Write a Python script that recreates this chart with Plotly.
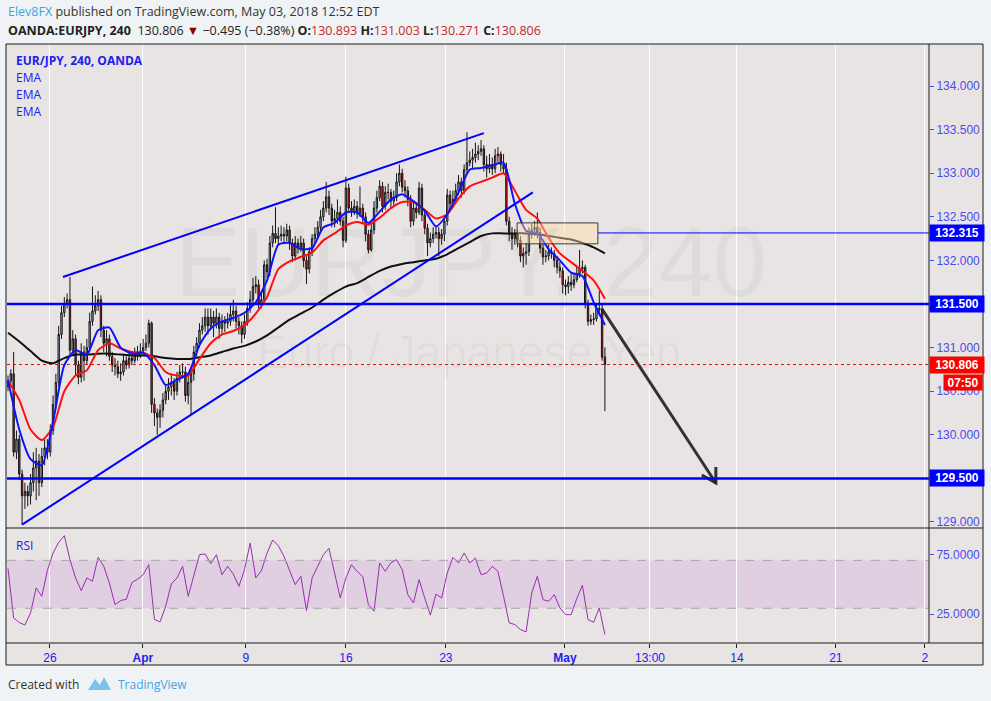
import plotly.graph_objects as go
from plotly.subplots import make_subplots

# ---------------- data (EUR/JPY 4h candles) ----------------
opens = [
    130.55, 130.62, 130.70, 129.80, 129.95, 129.55, 129.30, 129.35, 129.30, 129.45,
    129.62, 129.70, 129.45, 129.75, 129.85, 129.80, 130.05, 130.35, 130.60, 131.15,
    131.40, 131.50, 131.55, 130.97, 131.10, 130.80, 130.66, 130.95, 130.85, 131.00,
    131.30, 131.42, 131.48, 131.55, 131.20, 131.05, 131.10, 130.90, 130.80, 130.78,
    130.70, 130.72, 130.85, 130.80, 130.88, 130.85, 130.92, 130.90, 130.96, 131.00,
    131.05, 131.28, 130.35, 130.25, 130.20, 130.28, 130.40, 130.50, 130.55, 130.60,
    130.50, 130.65, 130.72, 130.72, 130.45, 130.60, 130.70, 130.95, 131.05, 131.20,
    131.25, 131.35, 131.25, 131.35, 131.28, 131.35, 131.22, 131.30, 131.28, 131.30,
    131.38, 131.42, 131.30, 131.25, 131.15, 131.30, 131.45, 131.55, 131.70, 131.72,
    131.50, 131.55, 131.95, 131.87, 132.20, 132.31, 132.25, 132.28, 132.30, 132.28,
    132.35, 132.20, 132.05, 132.20, 132.15, 132.20, 132.00, 131.90, 132.10, 132.25,
    132.30, 132.38, 132.50, 132.60, 132.73, 132.60, 132.45, 132.48, 132.55, 132.45,
    132.23, 132.83, 132.60, 132.57, 132.62, 132.54, 132.60, 132.50, 132.30, 132.12,
    132.35, 132.60, 132.72, 132.85, 132.62, 132.78, 132.78, 132.68, 132.72, 132.90,
    133.00, 132.84, 132.80, 132.70, 132.45, 132.60, 132.55, 132.83, 132.52, 132.37,
    132.20, 132.25, 132.30, 132.32, 132.25, 132.30, 132.45, 132.75, 132.65, 132.70,
    132.80, 132.90, 132.80, 133.04, 133.12, 133.15, 133.18, 133.22, 133.25, 133.28,
    133.10, 133.05, 133.10, 133.05, 133.20, 133.22, 133.10, 133.05, 132.45, 132.30,
    132.25, 132.30, 132.23, 132.05, 132.08, 132.10, 132.30, 132.35, 132.38, 132.32,
    132.14, 132.04, 132.05, 132.10, 132.08, 132.00, 131.92, 131.88, 131.72, 131.70,
    131.75, 131.72, 131.78, 131.85, 131.90, 131.92, 131.51, 131.30, 131.32, 131.33,
    131.45, 131.44, 130.893,
]
highs = [
    130.68, 130.75, 130.95, 130.05, 130.00, 129.60, 129.45, 129.42, 129.55, 129.80,
    129.85, 129.78, 129.85, 129.95, 129.95, 130.12, 130.45, 130.70, 131.25, 131.48,
    131.58, 131.62, 131.81, 131.20, 131.15, 130.85, 131.05, 131.02, 131.10, 131.40,
    131.70, 131.60, 131.65, 131.60, 131.25, 131.20, 131.15, 130.95, 130.88, 130.85,
    130.82, 130.92, 130.90, 130.95, 130.95, 131.00, 131.02, 131.05, 131.10, 131.15,
    131.32, 131.30, 130.42, 130.30, 130.35, 130.48, 130.58, 130.65, 130.70, 130.65,
    130.72, 130.80, 130.82, 130.78, 130.68, 130.78, 131.02, 131.12, 131.28, 131.35,
    131.45, 131.45, 131.45, 131.42, 131.45, 131.40, 131.38, 131.36, 131.40, 131.50,
    131.55, 131.48, 131.35, 131.30, 131.38, 131.52, 131.65, 131.80, 131.82, 131.78,
    131.65, 132.00, 132.02, 132.28, 132.40, 132.61, 132.38, 132.40, 132.38, 132.42,
    132.40, 132.25, 132.28, 132.25, 132.28, 132.25, 132.05, 132.15, 132.30, 132.38,
    132.45, 132.58, 132.68, 132.90, 132.80, 132.65, 132.58, 132.70, 132.62, 132.50,
    132.96, 132.88, 132.68, 132.70, 132.68, 132.85, 132.65, 132.55, 132.35, 132.42,
    132.68, 132.80, 132.92, 132.90, 132.85, 132.88, 132.82, 132.80, 133.00, 133.10,
    133.05, 132.92, 132.85, 132.75, 132.68, 132.65, 132.90, 132.88, 132.58, 132.42,
    132.32, 132.38, 132.40, 132.38, 132.36, 132.52, 132.82, 132.80, 132.80, 132.88,
    132.98, 132.95, 133.10, 133.47, 133.25, 133.28, 133.35, 133.32, 133.38, 133.32,
    133.20, 133.22, 133.18, 133.28, 133.30, 133.25, 133.22, 133.12, 132.50, 132.38,
    132.36, 132.35, 132.28, 132.15, 132.20, 132.38, 132.42, 132.45, 132.55, 132.38,
    132.20, 132.12, 132.18, 132.15, 132.12, 132.05, 131.98, 131.92, 131.78, 131.82,
    131.85, 131.85, 131.92, 132.12, 132.00, 131.95, 131.55, 131.38, 131.40, 131.50,
    131.65, 131.50, 131.003,
]
lows = [
    130.50, 130.58, 129.75, 129.72, 129.48, 128.97, 129.15, 129.18, 129.20, 129.35,
    129.25, 129.30, 129.40, 129.65, 129.72, 129.75, 130.00, 130.30, 130.55, 131.10,
    131.35, 131.45, 130.90, 130.92, 130.68, 130.58, 130.60, 130.62, 130.80, 130.95,
    131.25, 131.38, 131.42, 131.12, 130.95, 130.90, 130.85, 130.72, 130.68, 130.65,
    130.62, 130.68, 130.75, 130.76, 130.80, 130.82, 130.85, 130.88, 130.92, 130.96,
    131.00, 130.25, 130.10, 130.00, 130.08, 130.20, 130.35, 130.40, 130.45, 130.40,
    130.45, 130.60, 130.65, 130.38, 130.35, 130.23, 130.62, 130.90, 131.00, 131.15,
    131.18, 131.15, 131.20, 131.12, 131.22, 131.10, 131.15, 131.18, 131.22, 131.25,
    131.30, 131.22, 131.15, 131.05, 131.10, 131.25, 131.40, 131.50, 131.62, 131.45,
    131.45, 131.50, 131.80, 131.82, 132.15, 132.20, 132.18, 132.22, 132.20, 132.22,
    132.12, 131.98, 132.00, 132.08, 132.10, 131.92, 131.73, 131.85, 132.05, 132.20,
    132.25, 132.32, 132.45, 132.55, 132.52, 132.38, 132.38, 132.42, 132.40, 132.15,
    132.20, 132.55, 132.50, 132.52, 132.48, 132.50, 132.42, 132.22, 132.08, 132.10,
    132.30, 132.55, 132.68, 132.55, 132.58, 132.70, 132.60, 132.62, 132.68, 132.85,
    132.78, 132.72, 132.62, 132.38, 132.40, 132.48, 132.52, 132.45, 132.30, 132.05,
    132.15, 132.20, 132.25, 132.05, 132.18, 132.22, 132.40, 132.58, 132.60, 132.65,
    132.75, 132.72, 132.76, 133.00, 133.08, 133.05, 133.12, 133.15, 133.20, 133.02,
    132.95, 133.00, 132.98, 133.00, 133.12, 133.02, 133.00, 132.40, 132.22, 132.12,
    132.18, 132.15, 131.98, 131.92, 131.95, 132.05, 132.25, 132.28, 132.25, 132.08,
    131.95, 131.98, 132.00, 132.02, 131.92, 131.85, 131.80, 131.62, 131.60, 131.62,
    131.65, 131.68, 131.75, 131.80, 131.85, 131.45, 131.25, 131.26, 131.26, 131.30,
    131.38, 130.85, 130.271,
]
closes = [
    130.62, 130.70, 129.80, 129.95, 129.55, 129.30, 129.35, 129.30, 129.45, 129.62,
    129.70, 129.45, 129.75, 129.85, 129.80, 130.05, 130.35, 130.60, 131.15, 131.40,
    131.50, 131.55, 130.97, 131.10, 130.80, 130.66, 130.95, 130.85, 131.00, 131.30,
    131.42, 131.48, 131.55, 131.20, 131.05, 131.10, 130.90, 130.80, 130.78, 130.70,
    130.72, 130.85, 130.80, 130.88, 130.85, 130.92, 130.90, 130.96, 131.00, 131.05,
    131.28, 130.35, 130.25, 130.20, 130.28, 130.40, 130.50, 130.55, 130.60, 130.50,
    130.65, 130.72, 130.72, 130.45, 130.60, 130.70, 130.95, 131.05, 131.20, 131.25,
    131.35, 131.25, 131.35, 131.28, 131.35, 131.22, 131.30, 131.28, 131.30, 131.38,
    131.42, 131.30, 131.25, 131.15, 131.30, 131.45, 131.55, 131.70, 131.72, 131.50,
    131.55, 131.95, 131.87, 132.20, 132.31, 132.25, 132.28, 132.30, 132.28, 132.35,
    132.20, 132.05, 132.20, 132.15, 132.20, 132.00, 131.90, 132.10, 132.25, 132.30,
    132.38, 132.50, 132.60, 132.73, 132.60, 132.45, 132.48, 132.55, 132.45, 132.23,
    132.83, 132.60, 132.57, 132.62, 132.54, 132.60, 132.50, 132.30, 132.12, 132.35,
    132.60, 132.72, 132.85, 132.62, 132.78, 132.78, 132.68, 132.72, 132.90, 133.00,
    132.84, 132.80, 132.70, 132.45, 132.60, 132.55, 132.83, 132.52, 132.37, 132.20,
    132.25, 132.30, 132.32, 132.25, 132.30, 132.45, 132.75, 132.65, 132.70, 132.80,
    132.90, 132.80, 133.04, 133.12, 133.15, 133.18, 133.22, 133.25, 133.28, 133.10,
    133.05, 133.10, 133.05, 133.20, 133.22, 133.10, 133.05, 132.45, 132.30, 132.25,
    132.30, 132.23, 132.05, 132.08, 132.10, 132.30, 132.35, 132.38, 132.32, 132.14,
    132.04, 132.05, 132.10, 132.08, 132.00, 131.92, 131.88, 131.72, 131.70, 131.75,
    131.72, 131.78, 131.85, 131.90, 131.92, 131.51, 131.30, 131.32, 131.33, 131.45,
    131.44, 130.89, 130.806,
]

# EMA values read every 4th bar
ema_fast = [
    130.63, 130.06, 129.72, 129.65, 130.15, 130.80, 130.97, 130.92, 131.20, 131.23,
    131.00, 130.93, 130.94, 130.80, 130.57, 130.63, 130.70, 131.03, 131.22, 131.30,
    131.34, 131.40, 131.52, 131.77, 132.18, 132.20, 132.13, 132.14, 132.38, 132.43,
    132.55, 132.55, 132.43, 132.56, 132.70, 132.76, 132.68, 132.57, 132.39, 132.53,
    132.78, 133.04, 133.06, 133.09, 133.12, 132.65, 132.34, 132.31, 132.13, 132.00,
    131.86, 131.82, 131.52, 131.26,
]
ema_mid = [
    130.62, 130.40, 130.06, 129.94, 130.09, 130.50, 130.68, 130.74, 130.97, 131.05,
    130.99, 130.95, 130.94, 130.88, 130.72, 130.68, 130.68, 130.87, 131.05, 131.15,
    131.19, 131.26, 131.39, 131.58, 131.90, 131.99, 132.04, 132.09, 132.23, 132.31,
    132.40, 132.44, 132.41, 132.49, 132.60, 132.67, 132.67, 132.58, 132.48, 132.53,
    132.71, 132.85, 132.90, 132.95, 133.00, 132.80, 132.58, 132.48, 132.26, 132.08,
    131.98, 131.88, 131.77, 131.56,
]
ema_slow = [
    131.17, 131.07, 130.96, 130.85, 130.82, 130.88, 130.92, 130.92, 130.93, 130.93,
    130.92, 130.91, 130.91, 130.90, 130.88, 130.87, 130.87, 130.89, 130.91, 130.95,
    130.99, 131.02, 131.07, 131.14, 131.23, 131.32, 131.39, 131.46, 131.55, 131.63,
    131.70, 131.74, 131.81, 131.88, 131.93, 131.96, 131.98, 132.00, 132.02, 132.07,
    132.14, 132.21, 132.28, 132.31, 132.31, 132.31, 132.31, 132.30, 132.28, 132.26,
    132.24, 132.20, 132.15, 132.08,
]
# RSI read every 2nd bar
rsi = [
    63.1, 21.9, 18.1, 16.0, 26.1, 47.0, 40.0, 61.7, 76.1, 85.0,
    90.6, 70.6, 55.3, 44.7, 55.3, 52.5, 72.5, 65.0, 51.1, 33.1,
    36.4, 37.5, 51.4, 54.2, 58.0, 66.4, 20.6, 18.6, 31.7, 50.3,
    55.3, 65.0, 40.0, 58.0, 74.7, 75.3, 67.2, 74.7, 58.0, 65.0,
    58.6, 48.3, 62.2, 84.4, 55.3, 61.4, 76.1, 87.0, 82.2, 73.3,
    61.4, 49.7, 56.7, 28.0, 55.3, 65.0, 74.7, 80.0, 58.6, 38.6,
    55.3, 66.4, 60.8, 56.4, 33.0, 27.5, 67.8, 60.8, 68.0, 70.6,
    62.2, 41.4, 34.4, 53.9, 38.6, 24.2, 41.9, 38.6, 59.4, 72.5,
    67.8, 76.1, 67.8, 71.9, 58.0, 59.4, 65.0, 60.8, 40.0, 17.8,
    16.4, 12.2, 10.3, 42.8, 56.7, 37.2, 35.8, 41.4, 30.3, 24.7,
    24.7, 38.1, 49.2, 20.6, 18.3, 30.3, 8.1,
]

tick_text = ["26", "<b>Apr</b>", "9", "16", "23", "<b>May</b>", "13:00", "14", "21", "2"]
tick_bar = [14.9, 47.9, 84.5, 120.0, 155.5, 197.8, 228.0, 258.9, 294.0, 325.6]

last_price = 130.806
levels = [132.315, 131.5, 129.5]
zone = dict(x0=180.8, x1=209.5, y0=132.19, y1=132.43)
upper_trend = [(19.5, 131.81), (169.0, 133.46)]
lower_trend = [(5.0, 128.97), (186.4, 132.78)]
arrow_shaft = [(210.8, 131.45), (251.4, 129.447)]
arrow_head = [(246.4, 129.539), (251.4, 129.447), (251.4, 129.631)]

bars = list(range(len(closes)))
ema_bars = bars[::4]
rsi_bars = bars[::2]

# ---------------- layout geometry ----------------
W, H = 991, 701
ML, MR, MT, MB = 7, 62, 44, 58
PW, PH = W - ML - MR, H - MT - MB
RSI_FRAC = 115 / PH
XR = [-0.36, 327.1]


def fx(x):
    return (x - ML) / PW


def fy(y):
    return (H - MB - y) / PH


BLUE = "#0000ff"
TXT_BLUE = "#2020f0"
AX_BLUE = "#4b4bef"
BG = "#e9e4e4"

fig = make_subplots(rows=2, cols=1, shared_xaxes=True, vertical_spacing=0,
                    row_heights=[1 - RSI_FRAC, RSI_FRAC])

fig.add_trace(go.Candlestick(
    x=bars, open=opens, high=highs, low=lows, close=closes,
    increasing=dict(line=dict(color="#151515", width=1), fillcolor="#9dc0ea"),
    decreasing=dict(line=dict(color="#151515", width=1), fillcolor="#ff1010"),
    whiskerwidth=0, hoverinfo="skip", showlegend=False), row=1, col=1)

for vals, col in [(ema_slow, "#101010"), (ema_mid, "#ff1010"), (ema_fast, "#1010ff")]:
    fig.add_trace(go.Scatter(x=ema_bars, y=vals, mode="lines",
                             line=dict(color=col, width=2, shape="spline", smoothing=0.6),
                             hoverinfo="skip", showlegend=False), row=1, col=1)

# projected move arrow
fig.add_trace(go.Scatter(x=[p[0] for p in arrow_shaft], y=[p[1] for p in arrow_shaft],
                         mode="lines", line=dict(color="rgba(35,35,35,0.92)", width=3),
                         hoverinfo="skip", showlegend=False), row=1, col=1)
fig.add_trace(go.Scatter(x=[p[0] for p in arrow_head], y=[p[1] for p in arrow_head],
                         mode="lines", line=dict(color="rgba(35,35,35,0.92)", width=3),
                         hoverinfo="skip", showlegend=False), row=1, col=1)

fig.add_trace(go.Scatter(x=rsi_bars, y=rsi, mode="lines",
                         line=dict(color="#9a2db0", width=1),
                         hoverinfo="skip", showlegend=False), row=2, col=1)

shapes = []
# panel background
shapes.append(dict(type="rect", xref="paper", yref="paper", x0=fx(6), x1=fx(983),
                   y0=fy(665), y1=fy(44), fillcolor=BG, line=dict(width=0), layer="below"))
# RSI band
shapes.append(dict(type="rect", xref="paper", yref="y2", x0=0, x1=1, y0=30, y1=70,
                   fillcolor="rgba(160,70,200,0.13)", line=dict(width=0), layer="below"))
for lv in (30, 70):
    shapes.append(dict(type="line", xref="paper", yref="y2", x0=0, x1=1, y0=lv, y1=lv,
                       line=dict(color="#aaa3aa", width=1, dash="dash")))
# horizontal levels
for lv in levels[1:]:
    shapes.append(dict(type="line", xref="paper", yref="y", x0=0, x1=1, y0=lv, y1=lv,
                       line=dict(color=BLUE, width=2.5)))
shapes.append(dict(type="line", xref="x", yref="y", x0=zone["x1"], x1=XR[1],
                   y0=levels[0], y1=levels[0], line=dict(color=BLUE, width=1)))
shapes.append(dict(type="line", xref="paper", yref="y", x0=0, x1=1, y0=last_price, y1=last_price,
                   line=dict(color="#e01010", width=1, dash="dot")))
# supply zone
shapes.append(dict(type="rect", xref="x", yref="y", fillcolor="rgba(255,222,170,0.45)",
                   line=dict(color="#3a3a3a", width=1), **zone))
# wedge trendlines
for (a, b) in (upper_trend, lower_trend):
    shapes.append(dict(type="line", xref="x", yref="y", x0=a[0], y0=a[1], x1=b[0], y1=b[1],
                       line=dict(color=BLUE, width=2)))
# frame and separators
frame = dict(color="#1a1a1a", width=1)
shapes.append(dict(type="rect", xref="paper", yref="paper", x0=fx(6), x1=fx(983),
                   y0=fy(665), y1=fy(44), line=frame, layer="above"))
for yy in (528, 643):
    shapes.append(dict(type="line", xref="paper", yref="paper", x0=fx(6), x1=fx(983),
                       y0=fy(yy), y1=fy(yy), line=frame))
shapes.append(dict(type="line", xref="paper", yref="paper", x0=1, x1=1,
                   y0=fy(643), y1=fy(44), line=frame))
# footer logo
logo = [(88, 690), (95, 679), (100, 685), (104, 677), (111, 690)]
shapes.append(dict(type="path", xref="paper", yref="paper",
                   path="M " + " L ".join(f"{fx(x)},{fy(y)}" for x, y in logo) + " Z",
                   fillcolor="#7cc2ec", line=dict(width=0)))

ann = []
# price tags on the axis
for lv, col in [(levels[0], BLUE), (levels[1], BLUE), (levels[2], BLUE), (last_price, "#ff0000")]:
    ann.append(dict(xref="paper", yref="y", x=1, y=lv, xanchor="left", yanchor="middle",
                    text=f"<b>{lv:.3f}</b>", showarrow=False, bgcolor=col, width=54, height=16,
                    borderpad=0, font=dict(family="Liberation Sans", size=12, color="white")))
ann.append(dict(xref="paper", yref="paper", x=fx(983), y=fy(382), xanchor="right", yanchor="middle",
                text="<b>07:50</b>", showarrow=False, bgcolor="#ff0000", width=38, height=15,
                borderpad=0, font=dict(family="Liberation Sans", size=12, color="white")))
# watermark
ann.append(dict(xref="paper", yref="paper", x=fx(471), y=fy(262), text="EURJPY, 240",
                showarrow=False, font=dict(family="Liberation Sans", size=98, color="rgba(0,0,0,0.035)")))
ann.append(dict(xref="paper", yref="paper", x=fx(470), y=fy(352), text="Euro / Japanese Yen",
                showarrow=False, font=dict(family="Liberation Sans", size=46, color="rgba(0,0,0,0.035)")))
# legend-like labels
ann.append(dict(xref="paper", yref="paper", x=fx(14), y=fy(60), xanchor="left", yanchor="middle",
                text="<b>EUR/JPY, 240, OANDA</b>", showarrow=False,
                font=dict(family="Open Sans", size=12, color=TXT_BLUE)))
for yy in (77, 94, 111):
    ann.append(dict(xref="paper", yref="paper", x=fx(14), y=fy(yy), xanchor="left", yanchor="middle",
                    text="EMA", showarrow=False, font=dict(family="Open Sans", size=12, color=TXT_BLUE)))
ann.append(dict(xref="paper", yref="paper", x=fx(14), y=fy(545), xanchor="left", yanchor="middle",
                text="RSI", showarrow=False, font=dict(family="Open Sans", size=12, color=TXT_BLUE)))
# header
ann.append(dict(xref="paper", yref="paper", x=fx(6), y=fy(12), xanchor="left", yanchor="middle",
                text='<span style="color:#3ea3dc">Elev8FX</span> published on TradingView.com, May 03, 2018 12:52 EDT',
                showarrow=False, font=dict(family="Open Sans", size=12.5, color="#333333")))
RED = "#c42a2a"
head2 = ("<b>OANDA:EURJPY, 240</b>  130.806 "
         '<span style="color:#8b0000">▼</span> −0.495 (−0.38%) '
         f'<b>O:</b><span style="color:{RED}">130.893</span> '
         f'<b>H:</b><span style="color:{RED}">131.003</span> '
         f'<b>L:</b><span style="color:{RED}">130.271</span> '
         f'<b>C:</b><span style="color:{RED}">130.806</span>')
ann.append(dict(xref="paper", yref="paper", x=fx(6), y=fy(30), xanchor="left", yanchor="middle",
                text=head2, showarrow=False, font=dict(family="Open Sans", size=12.5, color="#222222")))
# footer
ann.append(dict(xref="paper", yref="paper", x=fx(6), y=fy(684), xanchor="left", yanchor="middle",
                text="Created with", showarrow=False, font=dict(family="Open Sans", size=12, color="#333333")))
ann.append(dict(xref="paper", yref="paper", x=fx(116), y=fy(684), xanchor="left", yanchor="middle",
                text="TradingView", showarrow=False, font=dict(family="Open Sans", size=12, color="#45a5e0")))

fig.update_layout(
    width=W, height=H, margin=dict(l=ML, r=MR, t=MT, b=MB),
    paper_bgcolor="#f0f3f5", plot_bgcolor="rgba(0,0,0,0)",
    showlegend=False, hovermode=False,
    shapes=shapes, annotations=ann,
    font=dict(family="Liberation Sans", size=12, color=AX_BLUE),
)
fig.update_xaxes(range=XR, tickvals=tick_bar, ticktext=tick_text, showgrid=True,
                 gridcolor="#ffffff", gridwidth=1, zeroline=False, showline=False,
                 rangeslider_visible=False)
fig.update_xaxes(showticklabels=False, ticks="", row=1, col=1)
fig.update_xaxes(showticklabels=True, ticks="outside", ticklen=4, tickcolor="#222222",
                 tickfont=dict(family="Liberation Sans", size=12, color=TXT_BLUE), row=2, col=1)
fig.update_yaxes(side="right", range=[128.931, 134.482], dtick=0.5, tick0=129, tickformat=".3f",
                 showgrid=False, zeroline=False, ticks="outside", ticklen=4, tickcolor=AX_BLUE,
                 tickfont=dict(family="Liberation Sans", size=12, color=AX_BLUE),
                 domain=[RSI_FRAC, 1], row=1, col=1)
fig.update_yaxes(side="right", range=[1, 97], tickvals=[25, 75], ticktext=["25.0000", "75.0000"],
                 showgrid=False, zeroline=False, ticks="outside", ticklen=4, tickcolor=AX_BLUE,
                 tickfont=dict(family="Liberation Sans", size=12, color=AX_BLUE),
                 domain=[0, RSI_FRAC], row=2, col=1)

fig.write_html("out.html", config={"displayModeBar": False},
               post_script="document.body.style.margin='0';document.body.style.background='#f0f3f5';")
